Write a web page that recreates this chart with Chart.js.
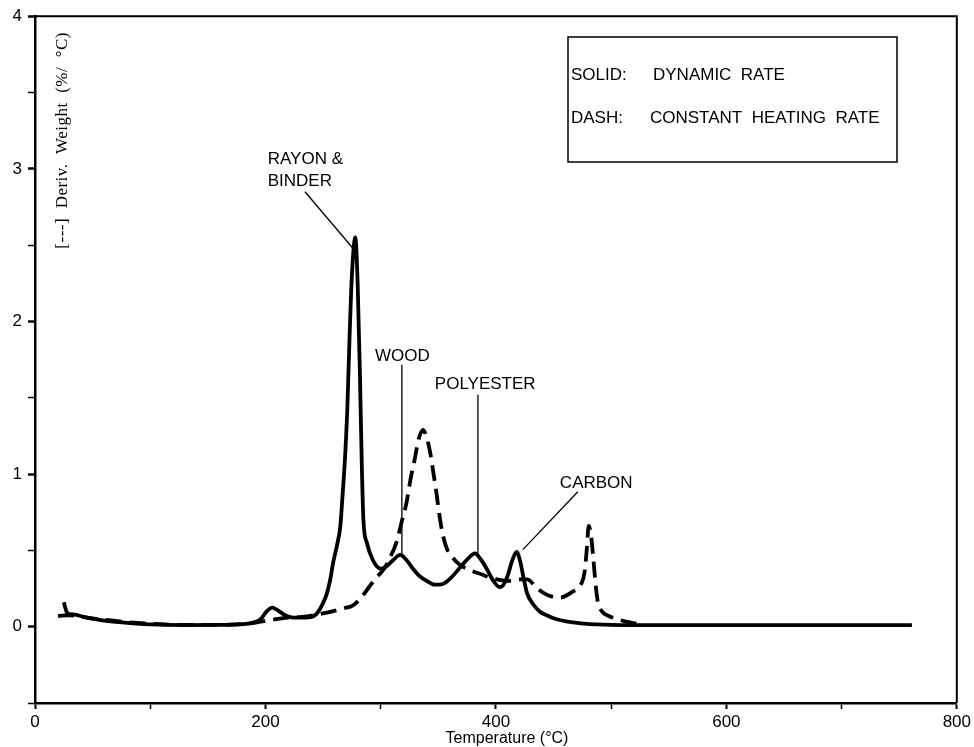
<!DOCTYPE html>
<html>
<head>
<meta charset="utf-8">
<script src="https://cdn.jsdelivr.net/npm/chart.js@4.4.0/dist/chart.umd.min.js"></script>
<style>
  body { margin: 0; background: #fff; }
  canvas { display: block; }
</style>
</head>
<body>
<canvas id="dtg" width="974" height="747"></canvas>
<script>
// temperature (deg C) and derivative weight (%/deg C), dynamic-rate run (solid)
var solidTemp = [25, 28, 33, 45, 60, 80, 100, 130, 160, 185, 196, 201, 206, 211, 217, 224, 236, 242, 245, 249, 253, 256, 259, 262, 265, 267, 269, 271, 273, 275, 278, 280, 282, 283.5, 285, 288, 293, 300, 304, 310, 317, 322, 328, 334, 340, 347, 354, 361, 368, 375, 382, 386, 392, 397, 403, 406, 410, 414, 418, 421, 424, 427, 432, 438, 444, 452, 462, 476, 500, 550, 650, 761];
var solidRate = [0.16, 0.09, 0.08, 0.06, 0.04, 0.025, 0.015, 0.01, 0.012, 0.02, 0.05, 0.1, 0.125, 0.105, 0.075, 0.06, 0.06, 0.07, 0.09, 0.14, 0.21, 0.3, 0.43, 0.53, 0.66, 0.87, 1.1, 1.42, 1.9, 2.3, 2.55, 2.25, 1.65, 1.1, 0.7, 0.55, 0.44, 0.38, 0.39, 0.43, 0.47, 0.44, 0.38, 0.33, 0.3, 0.275, 0.28, 0.32, 0.38, 0.44, 0.48, 0.45, 0.38, 0.31, 0.26, 0.27, 0.33, 0.43, 0.49, 0.43, 0.32, 0.22, 0.15, 0.1, 0.075, 0.05, 0.033, 0.02, 0.012, 0.01, 0.01, 0.01];

// constant heating rate run (dashed)
var dashTemp = [20, 30, 40, 60, 80, 100, 130, 160, 190, 205, 220, 232, 245, 258, 268, 276, 283, 290, 296, 303, 308, 314, 318, 322.6, 326, 329.6, 333, 336.6, 339.5, 342.7, 345.5, 348.5, 351, 354, 358, 362.7, 368, 374.5, 381, 388.6, 395, 401, 410, 420, 427, 436, 444, 455, 466.6, 474, 477, 479, 480.5, 482.5, 484.5, 486.5, 488.5, 492, 498, 505, 513, 522];
var dashRate = [0.07, 0.075, 0.065, 0.045, 0.03, 0.02, 0.012, 0.012, 0.025, 0.045, 0.06, 0.065, 0.08, 0.1, 0.12, 0.14, 0.19, 0.26, 0.32, 0.38, 0.45, 0.56, 0.68, 0.82, 0.97, 1.1, 1.23, 1.29, 1.25, 1.15, 1.02, 0.87, 0.73, 0.6, 0.5, 0.45, 0.41, 0.38, 0.36, 0.34, 0.32, 0.31, 0.3, 0.31, 0.31, 0.25, 0.21, 0.19, 0.23, 0.28, 0.36, 0.52, 0.66, 0.6, 0.45, 0.28, 0.16, 0.1, 0.07, 0.05, 0.033, 0.02];

var xTicks = [0, 200, 400, 600, 800];
var yTicks = [0, 1, 2, 3, 4];

// peak labels: text anchor and leader line, in data units
var peakNames = [["RAYON &", "BINDER"], ["WOOD"], ["POLYESTER"], ["CARBON"]];
var peakTextAt = [[202, 3.06], [295, 1.77], [347, 1.585], [455.5, 0.937]];
var peakLineFrom = [[234.3, 2.85], [318.4, 1.716], [384.4, 1.52], [471.1, 0.884]];
var peakLineTo = [[277, 2.47], [318.4, 0.47], [384.4, 0.48], [423.4, 0.505]];

var legendLines = [["SOLID:", "DYNAMIC  RATE"], ["DASH:", "CONSTANT  HEATING  RATE"]];

function pts(xs, ys) {
  return xs.map(function (x, i) { return { x: x, y: ys[i] }; });
}

var FONT = '"Liberation Sans", Arial, Helvetica, sans-serif';

var extras = {
  id: 'extras',
  afterDraw: function (chart) {
    var c = chart.ctx, a = chart.chartArea;
    var sx = chart.scales.x, sy = chart.scales.y;
    c.save();
    c.strokeStyle = '#000';
    c.fillStyle = '#000';

    // top and right frame
    c.lineWidth = 2;
    c.beginPath();
    c.moveTo(a.left, a.top);
    c.lineTo(a.right, a.top);
    c.lineTo(a.right, a.bottom);
    c.stroke();

    // key box
    c.lineWidth = 1.5;
    c.strokeRect(568, 37, 329, 125);
    c.font = '17px ' + FONT;
    c.textBaseline = 'middle';
    c.textAlign = 'left';
    c.fillText(legendLines[0][0], 571, 75);
    c.fillText(legendLines[0][1], 653, 75);
    c.fillText(legendLines[1][0], 571, 118);
    c.fillText(legendLines[1][1], 650, 118);

    // peak labels
    c.lineWidth = 1.3;
    peakNames.forEach(function (lines, i) {
      var tx = sx.getPixelForValue(peakTextAt[i][0]);
      var ty = sy.getPixelForValue(peakTextAt[i][1]);
      lines.forEach(function (s, k) { c.fillText(s, tx, ty + k * 22); });
      c.beginPath();
      c.moveTo(sx.getPixelForValue(peakLineFrom[i][0]), sy.getPixelForValue(peakLineFrom[i][1]));
      c.lineTo(sx.getPixelForValue(peakLineTo[i][0]), sy.getPixelForValue(peakLineTo[i][1]));
      c.stroke();
    });

    // x axis title
    c.textAlign = 'center';
    c.font = '16px ' + FONT;
    c.fillText('Temperature (\u00B0C)', 507, 739);

    // y axis title sits inside the frame
    c.translate(63, 32);
    c.rotate(-Math.PI / 2);
    c.textAlign = 'right';
    c.font = '17px "Liberation Serif", "Times New Roman", serif';
    if ('letterSpacing' in c) c.letterSpacing = '0.5px';
    c.fillText('[---]  Deriv.  Weight  (%/  \u00B0C)', 0, 0);
    c.restore();
  }
};

new Chart(document.getElementById('dtg'), {
  type: 'line',
  data: {
    datasets: [
      {
        label: 'Dynamic rate',
        data: pts(solidTemp, solidRate),
        borderColor: '#000',
        borderWidth: 3.8,
        pointRadius: 0,
        cubicInterpolationMode: 'monotone',
        fill: false
      },
      {
        label: 'Constant heating rate',
        data: pts(dashTemp, dashRate),
        borderColor: '#000',
        borderWidth: 3.8,
        borderDash: [16, 8],
        pointRadius: 0,
        cubicInterpolationMode: 'monotone',
        fill: false
      }
    ]
  },
  options: {
    responsive: false,
    animation: false,
    events: [],
    layout: { padding: { top: 16, right: 17, left: 0, bottom: 0 } },
    plugins: { legend: { display: false }, tooltip: { enabled: false } },
    scales: {
      x: {
        type: 'linear',
        min: 0,
        max: 800,
        afterFit: function (s) { s.height = 44; },
        ticks: {
          stepSize: 100,
          autoSkip: false,
          maxRotation: 0,
          padding: 3,
          color: '#000',
          font: { size: 17, family: FONT },
          callback: function (v) { return xTicks.indexOf(v) >= 0 ? String(v) : ''; }
        },
        grid: {
          drawOnChartArea: false,
          tickLength: 6,
          tickColor: '#000',
          tickWidth: function (ctx) { return xTicks.indexOf(ctx.tick.value) >= 0 ? 2 : 1.5; }
        },
        border: { color: '#000', width: 2.5 }
      },
      y: {
        min: -0.5,
        max: 4,
        afterFit: function (s) { s.width = 35; },
        ticks: {
          stepSize: 0.5,
          autoSkip: false,
          padding: 6,
          color: '#000',
          font: { size: 17, family: FONT },
          callback: function (v) { return yTicks.indexOf(v) >= 0 ? String(v) : ''; }
        },
        grid: {
          drawOnChartArea: false,
          tickLength: 7,
          tickColor: '#000',
          tickWidth: function (ctx) { return yTicks.indexOf(ctx.tick.value) >= 0 ? 2.5 : 1.5; }
        },
        border: { color: '#000', width: 2.5 }
      }
    }
  },
  plugins: [extras]
});
</script>
</body>
</html>
